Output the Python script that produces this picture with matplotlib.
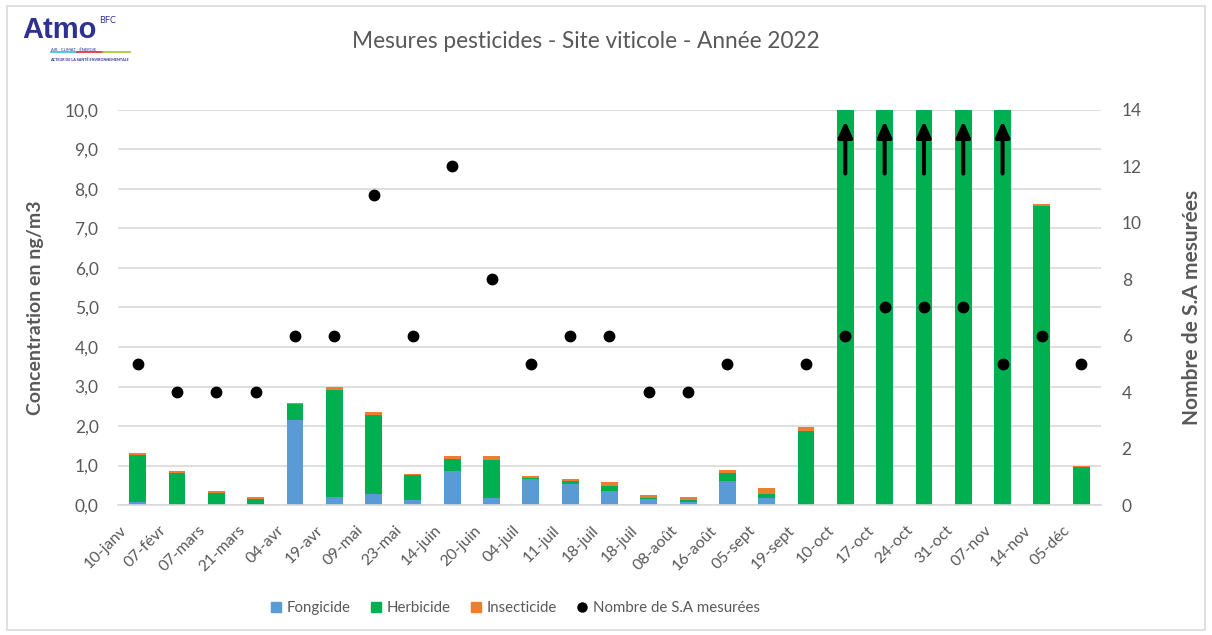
import matplotlib
matplotlib.use("Agg")
import matplotlib.pyplot as plt
import numpy as np
from matplotlib.patches import Rectangle
from matplotlib.lines import Line2D
from matplotlib.transforms import ScaledTranslation

plt.rcParams['font.family'] = ['Lato', 'DejaVu Sans']

dates = ["10-janv", "07-févr", "07-mars", "21-mars", "04-avr", "19-avr", "09-mai",
         "23-mai", "14-juin", "20-juin", "04-juil", "11-juil", "18-juil", "18-juil",
         "08-août", "16-août", "05-sept", "19-sept", "10-oct", "17-oct", "24-oct",
         "31-oct", "07-nov", "14-nov", "05-déc"]
fongicide = [0.08, 0.01, 0.01, 0.01, 2.15, 0.21, 0.29, 0.13, 0.86, 0.17, 0.65, 0.54,
             0.36, 0.16, 0.08, 0.62, 0.17, 0.00, 0.00, 0.00, 0.00, 0.00, 0.00, 0.00, 0.00]
herbicide = [1.19, 0.80, 0.30, 0.15, 0.41, 2.71, 1.98, 0.63, 0.30, 0.96, 0.04, 0.06,
             0.13, 0.03, 0.05, 0.19, 0.12, 1.87, 15.0, 15.0, 15.0, 15.0, 15.0, 7.58, 0.95]
insecticide = [0.05, 0.04, 0.05, 0.05, 0.03, 0.07, 0.08, 0.03, 0.07, 0.10, 0.04, 0.06,
               0.09, 0.06, 0.08, 0.08, 0.15, 0.10, 0.00, 0.00, 0.00, 0.00, 0.00, 0.04, 0.03]
nb_sa = [5, 4, 4, 4, 6, 6, 11, 6, 12, 8, 5, 6, 6, 4, 4, 5, np.nan, 5, 6, 7, 7, 7, 5, 6, 5]
off_scale = ["10-oct", "17-oct", "24-oct", "31-oct", "07-nov"]

C_F = "#5b9bd5"
C_H = "#00b050"
C_I = "#ed7d31"
GRAY = "#595959"

fig = plt.figure(figsize=(12.12, 6.35), dpi=100)
ax = fig.add_axes([0.0974, 0.2047, 0.8109, 0.6221])

x = np.arange(len(dates))
f = np.array(fongicide)
h = np.array(herbicide)
i_ = np.array(insecticide)
w = 0.43
ax.bar(x, f, w, color=C_F, zorder=2)
ax.bar(x, h, w, bottom=f, color=C_H, zorder=2)
ax.bar(x, i_, w, bottom=f + h, color=C_I, zorder=2)

ax.set_xlim(-0.5, len(dates) - 0.5)
ax.set_ylim(0, 10)
ax.set_yticks(np.arange(0, 10.01, 1))
ax.set_yticklabels([f"{v:.1f}".replace(".", ",") for v in np.arange(0, 10.01, 1)])
ax.grid(axis='y', color='#d9d9d9', lw=1.2, zorder=0)
ax.set_axisbelow(True)
for s in ['top', 'right', 'left']:
    ax.spines[s].set_visible(False)
ax.spines['bottom'].set_color('#d9d9d9')
ax.spines['bottom'].set_linewidth(1.2)
ax.tick_params(axis='y', length=0, pad=14, labelsize=12.5, labelcolor=GRAY)
ax.tick_params(axis='x', length=0, pad=4, labelsize=11.5, labelcolor=GRAY)
ax.set_xticks(x)
ax.set_xticklabels(dates, rotation=45, ha='right', rotation_mode='anchor')
off = ScaledTranslation(-13 / 72, -9 / 72, fig.dpi_scale_trans)
for lbl in ax.get_xticklabels():
    lbl.set_transform(lbl.get_transform() + off)
ax.set_ylabel("Concentration en ng/m3", fontsize=14, fontweight='bold', color=GRAY, labelpad=15)

for d in off_scale:
    k = dates.index(d)
    ax.annotate('', xy=(k, 9.72), xytext=(k, 8.39),
                arrowprops=dict(arrowstyle='-|>,head_length=0.47,head_width=0.21',
                                mutation_scale=20, lw=2.9, color='black',
                                shrinkA=0, shrinkB=0), zorder=5)

ax2 = ax.twinx()
ax2.plot(x, nb_sa, 'o', color='black', ms=7.5, zorder=4, linestyle='none')
ax2.set_ylim(0, 14)
ax2.set_yticks(np.arange(0, 15, 2))
for s in ['top', 'right', 'left', 'bottom']:
    ax2.spines[s].set_visible(False)
ax2.tick_params(axis='y', length=0, pad=15, labelsize=12.5, labelcolor=GRAY)
ax2.set_ylabel("Nombre de S.A mesurées", fontsize=15, fontweight='bold', color=GRAY, labelpad=29)

fig.text(0.483, 0.934, "Mesures pesticides - Site viticole - Année 2022", ha='center',
         va='center', fontsize=16.3, color=GRAY)

handles = [
    Line2D([], [], marker='s', color=C_F, linestyle='none', ms=7),
    Line2D([], [], marker='s', color=C_H, linestyle='none', ms=7),
    Line2D([], [], marker='s', color=C_I, linestyle='none', ms=7),
    Line2D([], [], marker='o', color='black', linestyle='none', ms=6.5),
]
fig.legend(handles, ["Fongicide", "Herbicide", "Insecticide", "Nombre de S.A mesurées"],
           loc='center', bbox_to_anchor=(0.425, 0.042), ncol=4, frameon=False,
           fontsize=10.8, labelcolor=GRAY, handlelength=0.8, handletextpad=0.35,
           columnspacing=1.25)

# frame
fig.patches.append(Rectangle((0.006, 0.008), 0.988, 0.982, transform=fig.transFigure,
                             fill=False, edgecolor='#d9d9d9', lw=1.2))

# logo
BLUE = "#2e3192"
fig.text(0.018, 0.952, "Atmo", fontsize=21, fontweight='bold', color=BLUE,
         ha='left', va='center', family=['Liberation Sans', 'DejaVu Sans'])
fig.text(0.0815, 0.968, "BFC", fontsize=6.5, color=BLUE, ha='left', va='center')
fig.text(0.042, 0.922, "AIR - CLIMAT - ÉNERGIE", fontsize=3.0, color=BLUE, ha='left', va='center')
for (x0, x1, c) in [(51, 77, '#3ec1e8'), (77, 103, '#e8304a'), (103, 130, '#a6ce39')]:
    fig.add_artist(Line2D([x0 / 1212, x1 / 1212], [1 - 52 / 635] * 2, color=c, lw=1.3,
                          transform=fig.transFigure))
fig.text(0.0415, 0.906, "ACTEUR DE LA SANTÉ ENVIRONNEMENTALE", fontsize=2.7,
         fontweight='bold', color=BLUE, ha='left', va='center')

fig.savefig("out.png", dpi=100)
